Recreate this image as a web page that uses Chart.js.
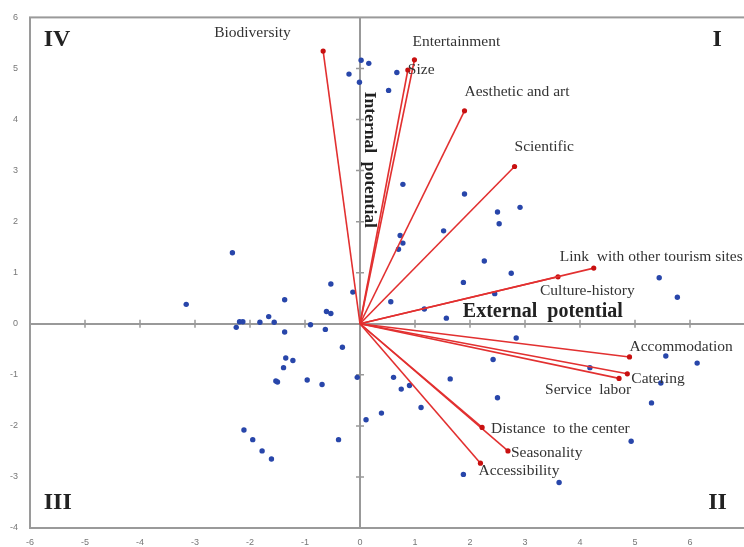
<!DOCTYPE html>
<html>
<head>
<meta charset="utf-8">
<script src="https://cdn.jsdelivr.net/npm/chart.js@4/dist/chart.umd.min.js"></script>
<style>
html, body { margin: 0; padding: 0; background: #fff; overflow: hidden; }
#wrap { width: 760px; height: 547px; }
</style>
</head>
<body>
<div id="wrap"><canvas id="mainChart" width="760" height="547"></canvas></div>
<script>
"use strict";

// variables (red vectors from origin)
var varNames = ["Biodiversity", "Entertainment", "Size", "Aesthetic and art", "Scientific",
    "Link  with other tourism sites", "Culture-history", "Accommodation", "Catering",
    "Service  labor", "Distance  to the center", "Seasonality", "Accessibility"];
var varX = [-0.67, 0.99, 0.87, 1.90, 2.81, 4.25, 3.60, 4.90, 4.86, 4.71, 2.22, 2.69, 2.19];
var varY = [5.34, 5.17, 4.97, 4.17, 3.08, 1.09, 0.92, -0.65, -0.98, -1.07, -2.03, -2.49, -2.73];

// sites (blue points)
var siteX = [-2.32, -3.16, -0.53, -0.13, -1.37, -0.61, -0.53, -1.66, -2.19, -2.13, -2.25, -1.82, -1.56,
    -0.90, -0.63, -1.37, -0.32, -1.35, -1.22, -1.39, -1.53, -1.50, -0.96, -0.69, -0.05, -2.11, -1.95,
    -1.78, -1.61, -0.39, 0.11, 0.02, 0.16, -0.20, -0.01, 0.67, 0.52, 0.78, 1.90, 2.91, 2.50, 2.53,
    1.52, 0.73, 0.78, 0.70, 2.26, 2.75, 1.88, 2.45, 0.56, 1.17, 1.57, 2.84, 5.44, 5.77, 5.56, 6.13,
    4.18, 5.47, 5.30, 2.42, 0.61, 1.64, 0.75, 0.90, 2.50, 1.11, 0.39, 1.88, 3.62, 4.93];
var siteY = [1.39, 0.38, 0.78, 0.62, 0.47, 0.24, 0.20, 0.14, 0.04, 0.04, -0.07, 0.03, 0.03,
    -0.02, -0.11, -0.16, -0.46, -0.67, -0.72, -0.86, -1.12, -1.14, -1.10, -1.19, -1.05, -2.08, -2.27,
    -2.49, -2.65, -2.27, -1.88, 5.16, 5.10, 4.89, 4.73, 4.92, 4.57, 2.73, 2.54, 2.28, 2.19, 1.96,
    1.82, 1.73, 1.58, 1.46, 1.23, 0.99, 0.81, 0.59, 0.43, 0.29, 0.11, -0.28, 0.90, 0.52, -0.63, -0.77,
    -0.86, -1.16, -1.55, -0.70, -1.05, -1.08, -1.28, -1.21, -1.45, -1.64, -1.75, -2.95, -3.11, -2.30];

// tick marks on the zero axes
var xTickVals = [-5, -4, -3, -2, -1, 1, 2, 3, 4, 5, 6];
var yTickVals = [-3, -2, -1, 1, 2, 3, 4, 5];

// quadrant labels
var quadNames = ["IV", "I", "III", "II"];
var quadX = [-5.75, 6.58, -5.75, 6.67];
var quadY = [5.57, 5.57, -3.51, -3.51];

// label offsets in pixels from each vector tip
var labelDx = [-109, -2, 0, 0, 0, -34, -18, 0, 4, -74, 9, 3, -2];
var labelDy = [-18, -18, 0, -19, -20, -11, 14, -10, 5, 12, 2, 2, 8];

var datasets = [];
for (var i = 0; i < varNames.length; i++) {
    datasets.push({
        data: [{ x: 0, y: 0 }, { x: varX[i], y: varY[i] }],
        showLine: true,
        borderColor: "rgb(226,48,48)",
        borderWidth: 1.6,
        pointRadius: [0, 2.6],
        pointBackgroundColor: "#c81010",
        pointBorderWidth: 0
    });
}

var sitePts = [];
for (var j = 0; j < siteX.length; j++) {
    sitePts.push({ x: siteX[j], y: siteY[j] });
}
datasets.push({
    data: sitePts,
    pointRadius: 2.7,
    pointBackgroundColor: "rgb(40,70,170)",
    pointBorderWidth: 0
});

datasets.push({
    data: xTickVals.map(function (v) { return { x: v, y: 0 }; }),
    pointStyle: "line",
    rotation: 90,
    pointRadius: 4,
    borderColor: "#999",
    borderWidth: 1.5
});
datasets.push({
    data: yTickVals.map(function (v) { return { x: 0, y: v }; }),
    pointStyle: "line",
    pointRadius: 4,
    borderColor: "#999",
    borderWidth: 1.5
});

var textPlugin = {
    id: "texts",
    beforeDatasetsDraw: function (chart) {
        var ctx = chart.ctx, a = chart.chartArea;
        ctx.save();
        ctx.strokeStyle = "#9a9a9a";
        ctx.lineWidth = 2;
        ctx.strokeRect(a.left, a.top, a.right - a.left, a.bottom - a.top);
        ctx.restore();
    },
    afterDatasetsDraw: function (chart) {
        var ctx = chart.ctx, xs = chart.scales.x, ys = chart.scales.y;
        ctx.save();
        ctx.fillStyle = "#333";
        ctx.textBaseline = "middle";
        ctx.textAlign = "left";
        ctx.font = "15.5px 'Liberation Serif'";
        for (var i = 0; i < varNames.length; i++) {
            ctx.fillText(varNames[i], xs.getPixelForValue(varX[i]) + labelDx[i],
                ys.getPixelForValue(varY[i]) + labelDy[i]);
        }
        ctx.fillStyle = "#222";
        ctx.font = "bold 20px 'Liberation Serif'";
        ctx.fillText("External  potential", xs.getPixelForValue(1.87), ys.getPixelForValue(0.23));
        ctx.save();
        ctx.font = "bold 17.5px 'Liberation Serif'";
        ctx.translate(xs.getPixelForValue(0.18), ys.getPixelForValue(3.21));
        ctx.rotate(Math.PI / 2);
        ctx.textAlign = "center";
        ctx.fillText("Internal  potential", 0, 0);
        ctx.restore();
        ctx.font = "bold 24px 'Liberation Serif'";
        for (var q = 0; q < quadNames.length; q++) {
            ctx.textAlign = quadX[q] < 0 ? "left" : "right";
            ctx.fillText(quadNames[q], xs.getPixelForValue(quadX[q]), ys.getPixelForValue(quadY[q]));
        }
        ctx.restore();
    }
};

var zeroGrid = {
    color: function (c) { return c.tick && c.tick.value === 0 ? "#999" : "rgba(0,0,0,0)"; },
    lineWidth: 2,
    drawTicks: false
};

var chart = new Chart(document.getElementById("mainChart"), {
    type: "scatter",
    data: { datasets: datasets },
    options: {
        responsive: false,
        animation: false,
        layout: { padding: { top: 16, right: 15, left: 0, bottom: 0 } },
        plugins: { legend: { display: false }, tooltip: { enabled: false } },
        scales: {
            x: {
                min: -6, max: 7,
                grid: zeroGrid,
                border: { display: false },
                afterFit: function (s) { s.height = 19; },
                ticks: {
                    stepSize: 1, padding: 9, color: "#777",
                    font: { size: 9, family: "'Liberation Sans'" },
                    callback: function (v) { return v === 7 ? "" : v; }
                }
            },
            y: {
                min: -4, max: 6,
                grid: zeroGrid,
                border: { display: false },
                afterFit: function (s) { s.width = 30; },
                ticks: {
                    stepSize: 1, padding: 12, color: "#777",
                    font: { size: 9, family: "'Liberation Sans'" }
                }
            }
        }
    },
    plugins: [textPlugin]
});
</script>
</body>
</html>
